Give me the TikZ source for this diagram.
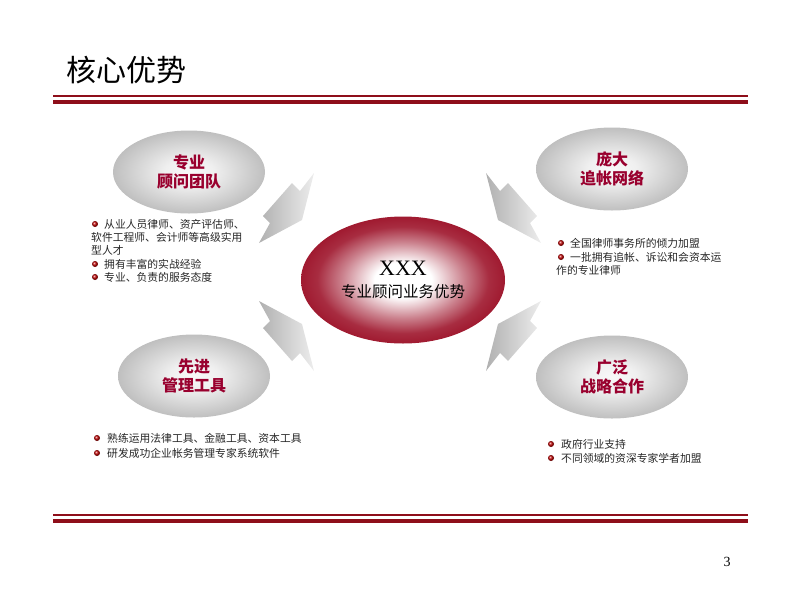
\documentclass[tikz,border=0pt]{standalone}
\usepackage{fontspec}
\setmainfont{Liberation Serif}
\newfontfamily\cjk{Noto Sans CJK SC}
\usetikzlibrary{shapes.geometric}
\definecolor{dred}{HTML}{8E0E1A}
\definecolor{lbl}{HTML}{99002E}
\definecolor{ered}{HTML}{A01A30}
\pgfdeclareradialshading{grayoval}{\pgfpoint{0bp}{0bp}}{color(0bp)=(gray!5); color(8bp)=(gray!12); color(25bp)=(gray!50); color(50bp)=(gray!50)}
\pgfdeclareradialshading{redoval}{\pgfpoint{0bp}{0bp}}{color(0bp)=(white); color(7bp)=(white); color(15bp)=(ered!55); color(21bp)=(ered!92); color(25bp)=(ered); color(50bp)=(ered)}
\newcommand\myboltpath{(314,173) -- (300,191) -- (292,183) -- (263,216) -- (270,223) -- (259,243) -- (302,220) -- cycle}
\begin{document}
\begin{tikzpicture}[x=1pt,y=-1pt,
  titletext/.style={font=\cjk\fontsize{30}{30}\selectfont, anchor=west, inner sep=0pt},
  oval/.style={ellipse, shading=grayoval, minimum width=152pt, minimum height=83pt, inner sep=0pt, align=center, text=lbl, font=\cjk\bfseries\fontsize{16}{19}\selectfont},
  centeroval/.style={ellipse, shading=redoval, minimum width=204pt, minimum height=127pt, inner sep=0pt, align=center, text=black, font=\fontsize{16}{22}\selectfont},
  btext/.style={anchor=west, inner sep=0pt, text=black!85, font=\cjk\fontsize{10.8}{12}\selectfont},
  bdot/.style={circle, inner sep=0pt, minimum size=6pt, ball color=red!75!black},
  bolt/.style={left color=gray!62, right color=gray!14},
  thinrule/.style={draw=dred, line width=1.1pt},
  thickrule/.style={draw=dred, line width=3.6pt}
]
\useasboundingbox (0,0) rectangle (800,600);
% title and rules
\node[titletext] (title) at (66,70) {核心优势};
\coordinate (tl1) at (53,96);  \coordinate (tr1) at (748,96);
\coordinate (tl2) at (53,102); \coordinate (tr2) at (748,102);
\draw[thinrule] (tl1) -- (tr1);
\draw[thickrule] (tl2) -- (tr2);
\coordinate (bl1) at (53,515);  \coordinate (br1) at (748,515);
\coordinate (bl2) at (53,521); \coordinate (br2) at (748,521);
\draw[thinrule] (bl1) -- (br1);
\draw[thickrule] (bl2) -- (br2);
\node[inner sep=0pt, font=\fontsize{14}{14}\selectfont] (pagenum) at (727,562) {3};

% arrows
\shade[bolt] \myboltpath;
\begin{scope}[xshift=800pt, xscale=-1]
  \shade[bolt] \myboltpath;
\end{scope}
\begin{scope}[yshift=-544pt, yscale=-1]
  \shade[bolt] \myboltpath;
\end{scope}
\begin{scope}[xshift=800pt, xscale=-1, yshift=-544pt, yscale=-1]
  \shade[bolt] \myboltpath;
\end{scope}

% ovals
\node[oval] (team) at (189,172) {专业\\顾问团队};
\node[oval] (net) at (612,169) {庞大\\追帐网络};
\node[oval] (tool) at (194,376) {先进\\管理工具};
\node[oval] (coop) at (612,377) {广泛\\战略合作};
\node[centeroval] (core) at (403,280) {{\fontsize{22}{22}\selectfont XXX}\\{\cjk\fontsize{15.5}{22}\selectfont 专业顾问业务优势}};

% top-left bullets
\node[bdot] (d1) at (95,224) {};
\node[btext] (t1) at (104,224) {从业人员律师、资产评估师、};
\node[btext] (t1b) at (91,237) {软件工程师、会计师等高级实用};
\node[btext] (t1c) at (91,250) {型人才};
\node[bdot] (d2) at (95,264) {};
\node[btext] (t2) at (104,264) {拥有丰富的实战经验};
\node[bdot] (d3) at (95,277) {};
\node[btext] (t3) at (104,277) {专业、负责的服务态度};

% top-right bullets
\node[bdot] (d4) at (561,243) {};
\node[btext] (t4) at (570,243) {全国律师事务所的倾力加盟};
\node[bdot] (d5) at (561,257) {};
\node[btext] (t5) at (570,257) {一批拥有追帐、诉讼和会资本运};
\node[btext] (t5b) at (556,270) {作的专业律师};

% bottom-left bullets
\node[bdot] (d6) at (97,438) {};
\node[btext] (t6) at (107,438) {熟练运用法律工具、金融工具、资本工具};
\node[bdot] (d7) at (97,453) {};
\node[btext] (t7) at (107,453) {研发成功企业帐务管理专家系统软件};

% bottom-right bullets
\node[bdot] (d8) at (551,444) {};
\node[btext] (t8) at (561,444) {政府行业支持};
\node[bdot] (d9) at (551,458) {};
\node[btext] (t9) at (561,458) {不同领域的资深专家学者加盟};
\end{tikzpicture}
\end{document}
